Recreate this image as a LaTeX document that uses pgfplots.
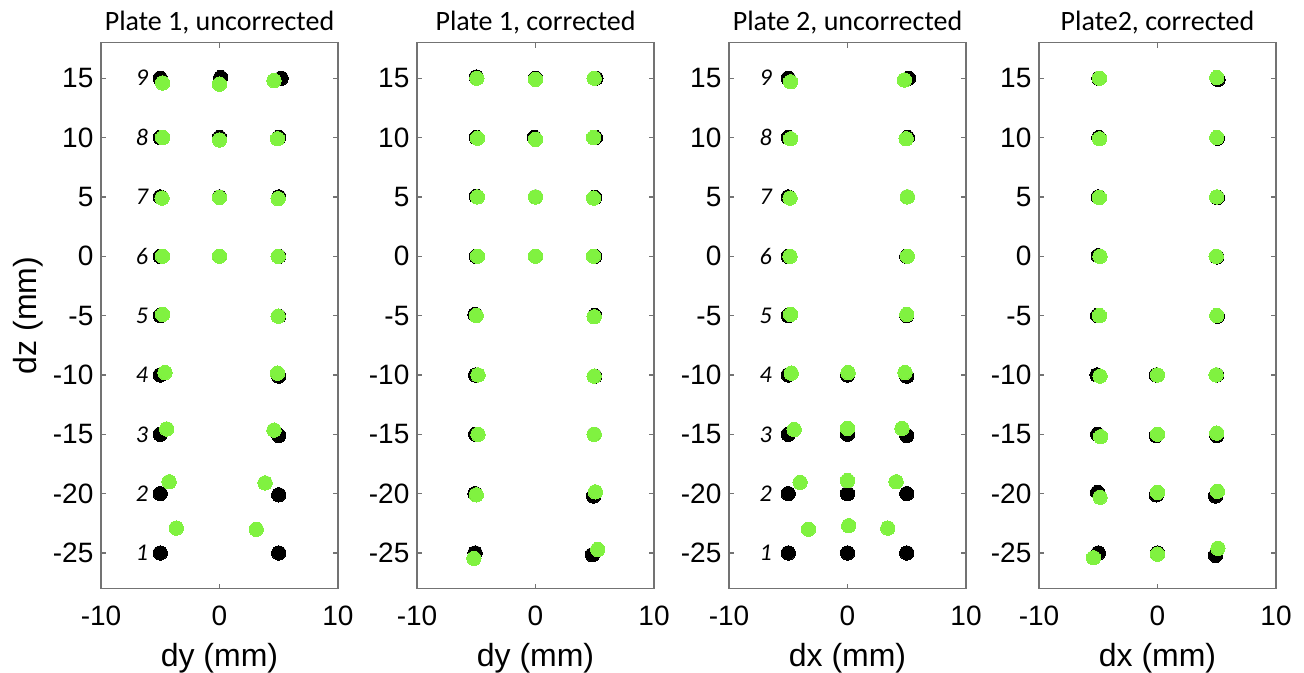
\documentclass[border=0pt]{standalone}
\usepackage{fontspec}
\setmainfont{Liberation Sans}
\newfontfamily\titlefont{Carlito}
\usepackage{pgfplots}
\pgfplotsset{compat=1.18}
\definecolor{pgreen}{RGB}{128,242,64}
\tikzset{num/.style={font=\titlefont\itshape\fontsize{12bp}{14bp}\selectfont, anchor=center}}
\newcommand\numlabels[1]{%
  \node[num] at (axis cs:#1,-25) {1};
  \node[num] at (axis cs:#1,-20) {2};
  \node[num] at (axis cs:#1,-15) {3};
  \node[num] at (axis cs:#1,-10) {4};
  \node[num] at (axis cs:#1,-5) {5};
  \node[num] at (axis cs:#1,0) {6};
  \node[num] at (axis cs:#1,5) {7};
  \node[num] at (axis cs:#1,10) {8};
  \node[num] at (axis cs:#1,15) {9};}
\pgfplotsset{
  panel/.style={
    scale only axis, width=118.5bp, height=273bp,
    xmin=-10, xmax=10, ymin=-28, ymax=18,
    xtick={-10,0,10}, xticklabels={-10,0,10},
    ytick={-25,-20,-15,-10,-5,0,5,10,15},
    yticklabels={-25,-20,-15,-10,-5,0,5,10,15},
    tick align=inside, major tick length=2.5bp,
    axis line style={black!55, line width=0.6bp},
    every tick/.style={black!55, line width=0.6bp},
    tick label style={font=\fontsize{14bp}{16bp}\selectfont},
    xticklabel style={anchor=base, yshift=-18.4bp},
    yticklabel style={xshift=-0.3bp},
    every axis title shift=0pt,
    title style={font=\titlefont\fontsize{14bp}{16bp}\selectfont,
      at={(axis description cs:0.5,1.0216)}, anchor=base},
    xlabel style={font=\fontsize{16bp}{18bp}\selectfont,
      at={(axis description cs:0.5,-0.1425)}, anchor=base},
    ylabel style={font=\fontsize{16bp}{18bp}\selectfont,
      at={(axis description cs:-0.274,0.5)}, anchor=base},
    clip=false,
  },
  blk/.style={only marks, mark=*, mark size=3.6bp, mark options={fill=black, draw=black, line width=0pt}},
  grn/.style={only marks, mark=*, mark size=3.6bp, mark options={fill=pgreen, draw=pgreen, line width=0pt}},
}
\begin{document}
\begin{tikzpicture}
\path[use as bounding box] (0,0) rectangle (652bp,-336.5bp);
% Panel 1
\begin{axis}[panel, at={(50.5bp,-294.3bp)}, anchor=south west,
  title={Plate 1, uncorrected}, xlabel={dy (mm)}, ylabel={dz (mm)}]
\addplot[blk] coordinates {(-5,15)(0.1,15.05)(5.2,15)
(-5,10)(0,10)(5,10)
(-5,5)(0,5)(5,5)
(-5,0)(0,0)(5,0)
(-5,-5)(5,-5.05)
(-5,-10)(5,-10.1)
(-5,-15)(5,-15.1)
(-5,-20)(5,-20.1)
(-5,-25)(5,-25)};
\addplot[grn] coordinates {(-4.8,14.6)(0,14.5)(4.6,14.8)
(-4.8,10)(0,9.8)(4.9,9.9)
(-4.85,4.9)(0,4.95)(4.95,4.85)
(-4.8,0)(0,0)(4.95,0)
(-4.8,-4.9)(4.95,-5.05)
(-4.6,-9.8)(4.9,-9.85)
(-4.45,-14.55)(4.6,-14.65)
(-4.25,-19.0)(3.85,-19.1)
(-3.65,-22.9)(3.1,-23.0)};
\numlabels{-6.55}
\end{axis}
% Panel 2
\begin{axis}[panel, at={(208.5bp,-294.3bp)}, anchor=south west,
  title={Plate 1, corrected}, xlabel={dy (mm)}]
\addplot[blk] coordinates {(-5,15.1)(0,15)(5.1,15)
(-5,10)(-0.1,10)(5.05,10)
(-5,5.05)(0,5)(5,4.95)
(-5,0)(0,0)(5,0)
(-5.1,-4.9)(5,-5)
(-5.05,-10)(5,-10.1)
(-5.05,-15)(4.95,-15)
(-5.1,-20)(4.9,-20.2)
(-5.1,-25)(4.8,-25.15)};
\addplot[grn] coordinates {(-4.95,15)(0,14.9)(4.95,15)
(-4.9,9.95)(0,9.85)(4.9,10)
(-4.9,5)(0,5)(4.9,4.9)
(-4.9,0)(0,0)(4.9,0)
(-5,-5)(4.95,-5.1)
(-4.85,-10)(4.95,-10.1)
(-4.85,-15)(4.95,-15)
(-5.0,-20.1)(5.05,-19.85)
(-5.2,-25.45)(5.25,-24.7)};
\end{axis}
% Panel 3
\begin{axis}[panel, at={(364.5bp,-294.3bp)}, anchor=south west,
  title={Plate 2, uncorrected}, xlabel={dx (mm)}]
\addplot[blk] coordinates {(-5,15)(5.15,15)
(-5,10)(5.05,10)
(-5,5)(5.05,5)
(-5,0)(5,0)
(-5,-5)(5,-5)
(-5,-10)(0,-10)(5,-10.1)
(-5,-15)(0,-15)(5,-15.1)
(-5,-20)(0,-20)(5,-20)
(-5,-25)(0,-25)(5,-25)};
\addplot[grn] coordinates {(-4.8,14.7)(4.8,14.85)
(-4.8,9.9)(4.95,9.9)
(-4.85,4.9)(5.05,5)
(-4.85,0)(5.05,0)
(-4.8,-4.9)(5,-4.9)
(-4.75,-9.85)(0.05,-9.8)(4.85,-9.8)
(-4.5,-14.6)(0,-14.5)(4.6,-14.5)
(-4.0,-19.05)(0,-18.9)(4.1,-19.0)
(-3.3,-23.0)(0.1,-22.7)(3.4,-22.9)};
\numlabels{-6.9}
\end{axis}
% Panel 4
\begin{axis}[panel, at={(519.5bp,-294.3bp)}, anchor=south west,
  title={Plate2, corrected}, xlabel={dx (mm)}]
\addplot[blk] coordinates {(-4.95,15)(5.1,14.9)
(-4.95,10)(5.05,9.95)
(-5,5)(5.05,4.95)
(-5,0.05)(5,-0.05)
(-5.05,-5)(5.05,-5.05)
(-5.1,-10)(-0.1,-10)(5,-10)
(-5.05,-15)(-0.1,-15.1)(5,-15.1)
(-5.05,-19.9)(-0.1,-20.1)(4.9,-20.2)
(-5,-25)(0,-25)(4.9,-25.2)};
\addplot[grn] coordinates {(-4.9,15)(5,15.05)
(-4.9,9.9)(5,10)
(-4.9,4.95)(5,5)
(-4.85,0)(4.95,0)
(-4.9,-5)(5,-5)
(-4.85,-10.1)(0,-10)(4.95,-10)
(-4.8,-15.2)(0,-15)(5,-14.9)
(-4.85,-20.3)(0,-19.9)(5.05,-19.8)
(-5.4,-25.4)(0,-25.1)(5.1,-24.6)};
\end{axis}
\end{tikzpicture}
\end{document}
